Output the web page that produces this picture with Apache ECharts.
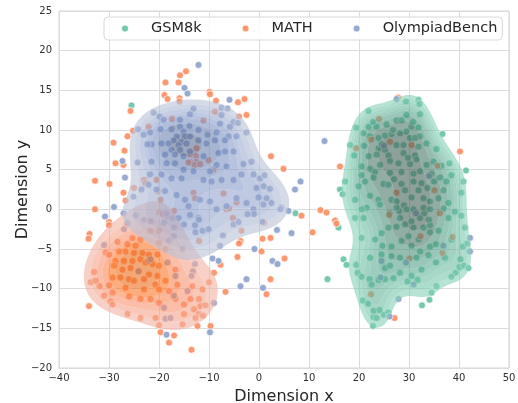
<!DOCTYPE html>
<html><head><meta charset="utf-8">
<script src="https://cdn.jsdelivr.net/npm/echarts@6/dist/echarts.min.js"></script>
<style>html,body{margin:0;padding:0;background:#fff}#c{width:518px;height:403px}</style>
</head><body><div id="c"></div>
<script>
const seriesNames = ['GSM8k', 'MATH', 'OlympiadBench'];
const seriesColors = ['#66c2a5', '#fc8d62', '#8da0cb'];
const xTicks = [-40, -30, -20, -10, 0, 10, 20, 30, 40, 50];
const yTicks = [-20, -15, -10, -5, 0, 5, 10, 15, 20, 25];

const gsm8k = [
[-25.5,13.1],[7.3,-0.5],[13.7,-8.8],[15.9,-2.3],
[29.4,13.6],[31.9,13.8],[32.1,13.3],[21.9,12.4],[29.5,11.9],[32.2,12.0],[19.4,10.3],[21.9,10.4],[23.5,10.4],[25.5,10.7],[27.5,11.2],[28.5,11.2],[30.5,10.4],[31.9,10.3],
[26.5,9.5],[28.2,9.6],[29.5,9.8],[32.2,9.2],[30.2,9.0],[31.2,9.0],[20.9,9.6],[22.2,9.2],[23.9,9.0],[25.2,9.3],[36.7,9.5],[18.2,8.1],
[23.9,7.7],[25.2,7.5],[27.5,8.1],[28.9,8.1],[31.9,7.9],[33.5,8.3],[21.9,6.7],[23.5,6.9],[25.9,6.8],[28.9,7.1],[31.2,6.8],[35.5,7.6],[19.0,6.8],[38.1,5.8],
[24.2,5.6],[26.2,6.1],[27.9,5.8],[30.2,5.7],[31.5,6.3],[33.5,5.6],[34.9,6.0],[20.5,5.4],[22.2,5.1],[23.2,4.7],[41.4,4.9],[17.2,3.5],[16.2,2.5],[16.7,1.9],
[26.2,4.6],[28.5,4.7],[30.9,4.5],[32.2,4.8],[34.5,4.5],[36.2,4.0],[37.5,3.5],[38.5,4.3],[19.9,2.9],[21.2,3.5],[22.9,4.0],[24.9,3.2],[25.9,3.1],[28.5,3.2],[30.9,3.5],[32.5,3.3],[33.7,2.7],
[40.9,3.5],[36.9,2.4],[40.5,2.1],[19.2,1.2],[22.2,1.7],[23.9,1.2],[26.5,1.2],[29.2,2.4],[31.9,2.4],[32.9,1.4],[34.2,1.0],[35.9,1.4],[37.9,0.8],[27.5,1.0],
[29.0,0.5],[30.5,1.5],[28.0,-0.2],[33.0,-0.5],[27.0,3.8],[29.8,6.5],[24.5,8.2],[26.8,10.0],[30.8,11.0],[22.8,11.0],[21.0,8.0],[20.5,4.3],[21.5,0.2],[35.0,3.5],[36.5,5.5],
[19.2,-1.1],[20.5,0.0],[20.9,-1.1],[24.2,0.6],[27.5,0.2],[29.5,0.0],[30.9,0.0],[32.9,0.2],[34.2,0.0],[36.9,0.1],[39.2,-0.3],[40.5,-0.8],[37.9,-1.1],
[20.5,-3.6],[23.2,-3.8],[24.5,-3.0],[25.9,-2.3],[27.5,-2.2],[29.2,-1.9],[30.9,-2.3],[32.9,-2.3],[34.2,-2.0],[34.2,-2.9],[35.9,-2.7],[29.9,-3.4],[31.9,-3.8],
[26.1,-0.5],[28.2,-1.1],[30.5,-1.5],[32.2,-1.1],[34.0,-1.3],[41.2,-2.3],[40.8,-4.7],[41.7,-4.3],[38.5,-3.8],
[24.7,-4.6],[26.5,-4.7],[28.5,-4.0],[30.5,-4.6],[32.2,-5.3],[34.2,-4.7],[35.4,-4.4],[22.2,-6.1],[24.5,-5.7],[26.5,-5.9],[28.2,-6.1],[31.5,-6.1],[33.9,-5.8],[37.2,-6.1],
[16.9,-6.3],[17.5,-7.0],[19.4,-7.0],[19.7,-8.0],[40.3,-6.3],[40.1,-7.3],[41.0,-7.1],[41.9,-7.4],[35.4,-6.7],[25.2,-7.4],[26.2,-7.1],[28.2,-8.0],[30.5,-8.4],[32.5,-7.6],
[20.5,-8.5],[22.1,-8.8],[23.9,-8.9],[39.3,-8.0],[38.5,-8.5],[22.5,-9.5],[25.2,-8.8],[26.9,-8.7],[29.7,-9.1],[31.7,-8.9],[35.5,-9.7],[34.5,-10.5],
[20.7,-11.5],[21.8,-11.9],[32.6,-12.1],[34.1,-11.4],[22.9,-12.8],[24.1,-12.7],[22.9,-13.6],[23.5,-13.7],[25.0,-13.3],[25.9,-13.0],[22.8,-14.7]
];

const math = [
[-25.7,12.4],[-14.6,17.4],[-15.8,16.9],[-18.7,16.0],[-16.1,16.0],[-18.9,14.4],[-18.3,13.9],[-15.9,14.0],[-15.9,13.6],[-9.9,14.8],[-9.8,14.5],[-8.6,13.7],[-4.2,13.5],[-2.9,13.9],
[-8.8,12.3],[-4.0,11.7],[-2.5,11.9],[-11.1,11.2],[-17.4,11.4],[-17.3,10.2],[-22.1,10.4],[-25.2,9.9],[-26.3,9.2],[-29.1,8.4],[-26.9,7.4],[-28.7,5.8],[-27.1,5.6],
[-32.8,3.6],[-29.9,3.2],[-27.1,2.1],[-25.0,2.7],[-26.7,1.1],[-23.0,3.7],[-22.7,3.3],[-20.3,2.3],[-19.7,1.2],[-32.8,0.0],
[-12.6,6.7],[-12.6,6.0],[-13.8,6.0],[-10.1,6.2],[-9.1,5.0],[-12.5,7.7],[-20.5,3.7],[-13.1,2.1],[-7.1,2.0],[-6.5,0.0],[-4.5,0.9],[-12.8,1.4],[2.4,6.7],[4.9,5.1],
[-14.1,5.9],[-12.9,5.6],[-11.8,5.7],[-13.8,6.9],
[-28.3,-4.1],[-26.3,-4.4],[-24.7,-4.6],[-26.7,-5.3],[-25.0,-5.5],[-23.3,-5.5],[-22.0,-5.7],[-20.3,-5.7],[-28.7,-6.5],[-27.0,-6.5],[-25.3,-6.5],[-23.7,-6.3],[-22.7,-6.7],[-21.3,-6.9],[-20.0,-7.1],
[-29.0,-7.1],[-27.3,-7.6],[-25.7,-7.4],[-24.0,-7.8],[-22.0,-8.2],[-20.3,-8.4],[-16.7,-7.6],[-29.3,-8.6],[-27.7,-8.6],[-26.0,-8.8],[-25.0,-9.0],[-23.0,-8.8],[-20.7,-9.5],[-18.7,-9.0],[-16.3,-9.5],
[-30.0,-9.6],[-26.7,-9.9],[-23.0,-10.1],[-20.0,-10.1],[-18.0,-10.3],[-13.3,-9.7],[-11.3,-10.1],[-29.3,-10.5],[-26.0,-11.0],[-23.7,-11.3],[-21.7,-11.3],[-20.0,-11.8],[-16.7,-11.3],[-15.0,-12.0],
[-13.7,-11.3],[-12.0,-11.3],[-11.7,-12.2],[-10.7,-12.1],[-26.3,-13.2],[-23.7,-13.7],[-20.7,-13.7],[-15.0,-13.2],[-13.0,-12.6],[-12.0,-13.2],[-11.2,-13.4],[-12.7,-13.7],
[-20.0,-14.6],[-15.3,-14.5],[-12.3,-14.7],[-9.7,-14.7],[-19.7,-15.5],[-17.0,-15.9],[-18.0,-16.8],[-13.5,-17.7],[-28.0,-5.3],[-25.3,-3.6],[-23.7,-3.8],[-20.0,-4.2],[-18.7,-5.0],
[-30.0,-1.6],[-30.0,-2.0],[-33.9,-3.1],[-34.1,-3.7],[-33.0,-7.9],[-33.7,-9.2],[-32.7,-9.0],[-31.9,-9.7],[-34.0,-12.2],[-31.0,-10.9],[-29.7,-11.6],[-29.3,-12.0],[-30.7,-5.4],[-30.0,-5.7],
[-20.0,-0.4],[-19.3,-0.6],[-18.3,-0.8],[-17.0,-0.2],[-21.7,-2.7],[-20.0,-2.7],[-12.0,-4.0],[-6.0,0.1],[-5.2,-1.1],
[-10.0,-9.2],[-9.0,-8.0],[-6.7,-10.4],[-4.3,-6.0],[-3.5,-2.7],[-3.7,-4.0],[-4.0,-4.3],[0.7,-3.7],[2.3,-3.6],[0.5,-5.3],[5.1,-6.2],[2.3,-8.8],[1.5,-10.7],
[8.5,-0.8],[10.7,-2.9],[12.3,-0.1],[13.5,-0.4],[1.0,-1.7],[-7.7,-7.0],
[16.2,5.4],[40.2,7.3],[27.8,14.1],[24.0,11.4],[22.4,8.8],[19.4,7.7],[26.2,8.5],[30.5,8.1],[35.7,5.5],[27.5,2.1],[35.1,2.4],
[15.2,-1.4],[15.5,-1.8],[26.0,-0.7],[36.2,-0.5],[32.3,-3.4],[38.7,-3.5],[36.7,-5.5],[30.1,-6.2],[22.4,-10.7],[27.1,-13.7]
];

const olympiad = [
[-12.1,18.2],[-14.9,15.3],[-14.3,14.6],[-21.1,12.2],[-19.9,11.7],[-19.1,11.3],[-13.8,12.0],[-15.8,11.3],[-7.5,12.8],[-6.3,12.7],[-5.9,13.8],[-13.1,12.7],
[-5.1,11.0],[-4.2,10.9],[-2.5,9.7],[-5.8,10.4],[-7.8,10.8],[-8.5,9.7],[-6.1,9.2],[-4.5,9.2],[-7.5,11.9],[-10.3,9.4],[-12.1,10.0],[-13.9,10.5],[-15.8,10.4],[-17.5,10.1],
[-19.7,10.1],[-21.8,9.7],[-24.2,10.1],[-23.1,9.4],[-15.1,9.8],[-16.5,9.2],[-14.8,9.2],[-13.8,9.2],[-17.1,8.7],[-15.5,8.5],[-14.5,8.3],[-18.1,8.3],[-19.5,8.3],[-21.5,8.2],[-22.3,8.2],
[-16.1,8.1],[-12.1,8.7],[-10.5,8.3],[-8.8,8.7],[-6.8,8.7],[-17.5,7.5],[-15.8,7.5],[-13.8,7.3],[-18.8,6.9],[-16.8,6.9],[-15.1,6.7],[-11.1,6.7],[-8.1,7.1],[-6.8,7.3],[-5.1,7.3],
[-21.5,6.0],[-18.5,5.8],[-16.8,5.8],[-15.1,5.0],[-13.1,4.8],[-9.8,4.8],[-8.5,5.6],[-6.5,5.4],[-3.1,5.7],[-1.5,6.0],[-21.8,4.4],[-19.5,4.4],[-17.5,3.9],[-15.5,3.9],
[-11.1,3.7],[-9.5,3.5],[-7.5,3.7],[-5.1,3.7],[-3.5,4.4],[-1.1,4.4],[0.2,3.9],[-0.5,2.7],[0.9,2.9],[2.2,2.6],[-22.1,3.1],[-23.5,2.5],[-25.1,1.6],[-20.5,2.5],[-18.8,2.3],
[-16.5,1.8],[-14.8,1.2],[-14.1,0.4],[-11.8,1.2],[-9.8,1.0],[-8.5,0.0],[-6.5,0.4],[-4.5,1.4],[-2.5,0.8],[-1.1,0.0],[0.9,0.6],[2.5,0.8],[4.5,0.2],[5.9,-0.2],[4.3,0.0],
[3.6,-2.6],[0.7,-1.6],[-27.1,-0.5],[-29.0,0.3],[-30.8,-0.9],[-26.5,-1.9],[-24.5,-0.7],[-18.5,-0.5],[-16.1,-1.1],[-13.8,-0.7],[-12.1,-1.1],[-7.2,-3.3],[-5.1,-1.9],[-4.1,-1.6],
[-0.9,-5.0],[-7.8,-4.6],[-27.0,-2.5],[-31.0,-4.5],[-24.7,-0.8],[-26.3,-1.7],[-23.0,-1.3],[-21.7,-1.5],[-19.0,-1.7],[-17.3,-1.1],[-17.0,-2.3],[-15.0,-1.9],[-17.0,-3.4],[-18.0,-3.9],
[-15.3,-5.0],[-12.8,-2.0],[-12.7,-2.9],[-11.3,-2.7],[-12.0,-1.3],[-10.1,-2.5],[-9.3,-6.2],[-8.1,-6.5],[-12.8,-6.9],[-13.2,-7.8],[-13.5,-8.4],[-1.0,-0.6],[-2.3,-0.6],
[6.5,-3.0],[2.7,-6.5],[3.7,-6.9],[-2.5,-8.8],[-3.7,-9.7],[0.8,-9.9],[-9.0,-11.8],[-24.1,-7.8],[-22.1,-6.5],[-21.7,-6.3],[-18.3,-6.7],[-16.7,-8.4],[-17.0,-10.9],[-14.3,-10.3],
[-19.0,-12.4],[-18.7,-13.8],[-17.7,-13.7],[-18.5,-15.8],[-9.8,-15.5],
[8.3,3.5],[7.2,2.5],[1.1,4.3],[1.5,1.4],[-0.1,1.5],[-27.3,6.1],[-24.3,5.9],[-26.8,4.0],
[13.1,8.6],[27.5,13.9],[25.0,8.0],[34.0,4.2],[31.4,-0.5],[42.2,-3.6],[42.2,-5.3],[36.9,-4.6],[24.5,-6.5],[29.4,-6.7],[24.3,-8.6],[30.9,-9.5],[27.9,-11.3],[26.1,-13.5]
];

const groups = [gsm8k, math, olympiad];

/* ---------- HSLuv (as used by seaborn's husl) ---------- */
const M = [[3.240969941904521,-1.537383177570093,-0.498610760293],[-0.96924363628087,1.87596750150772,0.041555057407175],[0.055630079696993,-0.20397695888897,1.056971514242878]];
const MINV = [[0.41239079926595,0.35758433938387,0.18048078840183],[0.21263900587151,0.71516867876775,0.072192315360733],[0.019330818715591,0.11919477979462,0.95053215224966]];
const REFU = 0.19783000664283, REFV = 0.46831999493879, KAPPA = 903.2962962, EPS = 0.0088564516;
function bounds(L){const res=[];const sub1=Math.pow(L+16,3)/1560896;const sub2=sub1>EPS?sub1:L/KAPPA;
 for(let c=0;c<3;c++){const m1=M[c][0],m2=M[c][1],m3=M[c][2];
  for(let t=0;t<2;t++){const top1=(284517*m1-94839*m3)*sub2;const top2=(838422*m3+769860*m2+731718*m1)*L*sub2-769860*t*L;const bottom=(632260*m3-126452*m2)*sub2+126452*t;res.push([top1/bottom,top2/bottom]);}}
 return res;}
function maxChroma(L,H){const hr=H/180*Math.PI;let mn=Infinity;for(const b of bounds(L)){const len=b[1]/(Math.sin(hr)-b[0]*Math.cos(hr));if(len>=0)mn=Math.min(mn,len);}return mn;}
const clamp01 = v => Math.max(0, Math.min(1, v));
function fromLin(c){return c<=0.0031308?12.92*c:1.055*Math.pow(c,1/2.4)-0.055;}
function toLin(c){return c>0.04045?Math.pow((c+0.055)/1.055,2.4):c/12.92;}
function hsluvToRgb(H,S,L){
 if(L>99.9999999)return[1,1,1]; if(L<1e-8)return[0,0,0];
 const C=maxChroma(L,H)/100*S;const hr=H/180*Math.PI;const U=C*Math.cos(hr),V=C*Math.sin(hr);
 const varU=U/(13*L)+REFU,varV=V/(13*L)+REFV;
 const Y=L<=8?L/KAPPA:Math.pow((L+16)/116,3);
 const X=0-(9*Y*varU)/((varU-4)*varV-varU*varV);
 const Z=(9*Y-15*varV*Y-varV*X)/(3*varV);
 return M.map(r=>clamp01(fromLin(r[0]*X+r[1]*Y+r[2]*Z)));
}
function rgbToHsluv(r,g,b){
 const lr=toLin(r),lg=toLin(g),lb=toLin(b);
 const X=MINV[0][0]*lr+MINV[0][1]*lg+MINV[0][2]*lb;
 const Y=MINV[1][0]*lr+MINV[1][1]*lg+MINV[1][2]*lb;
 const Z=MINV[2][0]*lr+MINV[2][1]*lg+MINV[2][2]*lb;
 const L=Y<=EPS?Y*KAPPA:116*Math.cbrt(Y)-16;
 const d=X+15*Y+3*Z;const U=13*L*(4*X/d-REFU),V=13*L*(9*Y/d-REFV);
 const C=Math.hypot(U,V);let H=Math.atan2(V,U)*180/Math.PI;if(H<0)H+=360;
 return [H, C/maxChroma(L,H)*100, L];
}
function cmapFromColor(hex){
 const r=parseInt(hex.slice(1,3),16)/255,g=parseInt(hex.slice(3,5),16)/255,b=parseInt(hex.slice(5,7),16)/255;
 const hsl=rgbToHsluv(r,g,b);const N=Math.floor(1.15*256);const cols=[];
 for(let i=0;i<256;i++){const xx=-1+2*i/(N-1);const L=35+45*i/255;cols.push(hsluvToRgb(hsl[0],hsl[1]*Math.cos(xx),L));}
 cols.reverse();
 return v=>cols[Math.min(255,Math.max(0,Math.floor(v*256)))];
}

/* ---------- Gaussian KDE on a shared grid (scott bandwidth * adjust, common norm) ---------- */
const BW_ADJUST=0.9, THRESH=0.42, NLEVELS=10, KDE_ALPHA=0.6;
const GX0=-56, GX1=66, GDX=0.4, GY0=-33, GY1=38, GDY=0.3;
const nx=Math.round((GX1-GX0)/GDX)+1, ny=Math.round((GY1-GY0)/GDY)+1;
const gridX=[],gridY=[];for(let i=0;i<nx;i++)gridX.push(GX0+i*GDX);for(let j=0;j<ny;j++)gridY.push(GY0+j*GDY);
const total=groups.reduce((s,g)=>s+g.length,0);
function kde(pts,weight){
 const n=pts.length;let mx=0,my=0;pts.forEach(p=>{mx+=p[0];my+=p[1];});mx/=n;my/=n;
 let sxx=0,syy=0,sxy=0;pts.forEach(p=>{const dx=p[0]-mx,dy=p[1]-my;sxx+=dx*dx;syy+=dy*dy;sxy+=dx*dy;});
 sxx/=(n-1);syy/=(n-1);sxy/=(n-1);
 const f2=Math.pow(n,-1/3)*BW_ADJUST*BW_ADJUST;const a=sxx*f2,b=sxy*f2,d=syy*f2;const det=a*d-b*b;
 const ia=d/det,ib=-b/det,id=a/det;const norm=weight/(2*Math.PI*Math.sqrt(det)*n);
 const V=new Float64Array(nx*ny);
 for(let j=0;j<ny;j++){const y=gridY[j];for(let i=0;i<nx;i++){const x=gridX[i];let s=0;
  for(let k=0;k<n;k++){const dx=x-pts[k][0],dy=y-pts[k][1];const q=ia*dx*dx+2*ib*dx*dy+id*dy*dy;if(q<60)s+=Math.exp(-0.5*q);}
  V[j*nx+i]=s*norm;}}
 return V;
}
const dens=groups.map(g=>kde(g,g.length/total));
const allVals=[];dens.forEach(V=>{for(let i=0;i<V.length;i++)allVals.push(V[i]);});
allVals.sort((a,b)=>b-a);
const sumAll=allVals.reduce((s,v)=>s+v,0);
const cum=new Float64Array(allVals.length);{let s=0;for(let i=0;i<allVals.length;i++){s+=allVals[i];cum[i]=s/sumAll;}}
const isoProps=[];for(let i=0;i<NLEVELS;i++)isoProps.push(THRESH+(1-THRESH)*i/(NLEVELS-1));
const levels=isoProps.map(q=>{const t=1-q;let lo=0,hi=cum.length;while(lo<hi){const m=(lo+hi)>>1;if(cum[m]<t)lo=m+1;else hi=m;}return allVals[Math.min(lo,allVals.length-1)];});

function clipPoly(poly,t,keepAbove){
 const out=[];const inside=p=>keepAbove?p[2]>=t:p[2]<t;
 for(let i=0;i<poly.length;i++){const A=poly[i],B=poly[(i+1)%poly.length];const ia=inside(A),ib=inside(B);
  if(ia)out.push(A);
  if(ia!==ib){const r=(t-A[2])/(B[2]-A[2]);out.push([A[0]+r*(B[0]-A[0]),A[1]+r*(B[1]-A[1]),t]);}}
 return out;
}
function kdeSeries(gi){
 const cmap=cmapFromColor(seriesColors[gi]);const V=dens[gi];
 const L0=levels[0],LN=levels[levels.length-1];
 return {
  type:'custom',name:'kde'+gi,silent:true,z:3,clip:true,animation:false,
  coordinateSystem:'cartesian2d',data:[[0,0]],
  renderItem:function(params,api){
   const px=gridX.map(x=>api.coord([x,0])[0]);const py=gridY.map(y=>api.coord([0,y])[1]);
   const nb=levels.length-1;const paths=[];for(let k=0;k<nb;k++)paths.push([]);
   const addPoly=(k,p)=>{if(p.length<3)return;let s='M'+p[0][0].toFixed(2)+' '+p[0][1].toFixed(2);for(let m=1;m<p.length;m++)s+='L'+p[m][0].toFixed(2)+' '+p[m][1].toFixed(2);paths[k].push(s+'Z');};
   for(let j=0;j<ny-1;j++)for(let i=0;i<nx-1;i++){
    const v00=V[j*nx+i],v10=V[j*nx+i+1],v01=V[(j+1)*nx+i],v11=V[(j+1)*nx+i+1];
    if(Math.max(v00,v10,v01,v11)<L0)continue;
    const P00=[px[i],py[j],v00],P10=[px[i+1],py[j],v10],P01=[px[i],py[j+1],v01],P11=[px[i+1],py[j+1],v11];
    for(const tri of [[P00,P10,P11],[P00,P11,P01]]){
     const tmin=Math.min(tri[0][2],tri[1][2],tri[2][2]),tmax=Math.max(tri[0][2],tri[1][2],tri[2][2]);
     if(tmax<L0)continue;
     for(let k=0;k<nb;k++){const lo=levels[k],hi=(k===nb-1)?Infinity:levels[k+1];
      if(tmax<lo||tmin>=hi)continue;
      if(tmin>=lo&&tmax<hi){addPoly(k,tri);continue;}
      let p=tri;if(tmin<lo)p=clipPoly(p,lo,true);if(p.length>=3&&tmax>=hi)p=clipPoly(p,hi,false);addPoly(k,p);}
    }}
   const children=[];
   for(let k=0;k<nb;k++){if(!paths[k].length)continue;
    const mid=0.5*(levels[k]+levels[k+1]);const c=cmap((mid-L0)/(LN-L0));
    children.push({type:'path',shape:{pathData:paths[k].join('')},silent:true,
     style:{fill:'rgba('+Math.round(c[0]*255)+','+Math.round(c[1]*255)+','+Math.round(c[2]*255)+','+KDE_ALPHA+')',stroke:null}});}
   return {type:'group',children:children};
  }
 };
}

const fmt=v=>String(v).replace('-','\u2212');
const chart=echarts.init(document.getElementById('c'),null,{renderer:'canvas'});
const option={
 animation:false,backgroundColor:'#ffffff',
 grid:{left:59,right:9,top:11,bottom:35,show:true,borderColor:'#d6d6d6',borderWidth:1,backgroundColor:'transparent',containLabel:false,outerBoundsMode:'none'},
 xAxis:{type:'value',min:xTicks[0],max:xTicks[xTicks.length-1],interval:10,
  name:'Dimension x',nameLocation:'middle',nameGap:21,nameMoveOverlap:false,nameTextStyle:{fontSize:16,color:'#262626',fontFamily:'DejaVu Sans'},
  axisLine:{show:false},axisTick:{show:false},
  axisLabel:{formatter:fmt,fontSize:10,color:'#303030',fontFamily:'DejaVu Sans',margin:5},
  splitLine:{show:true,lineStyle:{color:'#dcdcdc',width:1}}},
 yAxis:{type:'value',min:yTicks[0],max:yTicks[yTicks.length-1],interval:5,
  name:'Dimension y',nameLocation:'middle',nameGap:28,nameMoveOverlap:false,nameTextStyle:{fontSize:16,color:'#262626',fontFamily:'DejaVu Sans'},
  axisLine:{show:false},axisTick:{show:false},
  axisLabel:{formatter:fmt,fontSize:10,color:'#303030',fontFamily:'DejaVu Sans',margin:7},
  splitLine:{show:true,lineStyle:{color:'#dcdcdc',width:1}}},
 legend:{data:seriesNames,left:104,top:17,orient:'horizontal',icon:'circle',itemWidth:8,itemHeight:8,itemGap:39,
  padding:[4,5,4,16],backgroundColor:'rgba(255,255,255,0.85)',borderColor:'#d9d9d9',borderWidth:1,borderRadius:4,z:10,
  textStyle:{fontSize:14.5,color:'#262626',fontFamily:'DejaVu Sans',padding:[0,0,0,17]}},
 series:[]
};
seriesNames.forEach((nm,gi)=>{
 option.series.push({type:'scatter',name:nm,data:groups[gi],symbol:'circle',symbolSize:7,z:2,
  itemStyle:{color:seriesColors[gi],borderColor:'#ffffff',borderWidth:0.8,opacity:0.9},emphasis:{disabled:true}});
});
seriesNames.forEach((nm,gi)=>option.series.push(kdeSeries(gi)));
chart.setOption(option);
</script></body></html>
